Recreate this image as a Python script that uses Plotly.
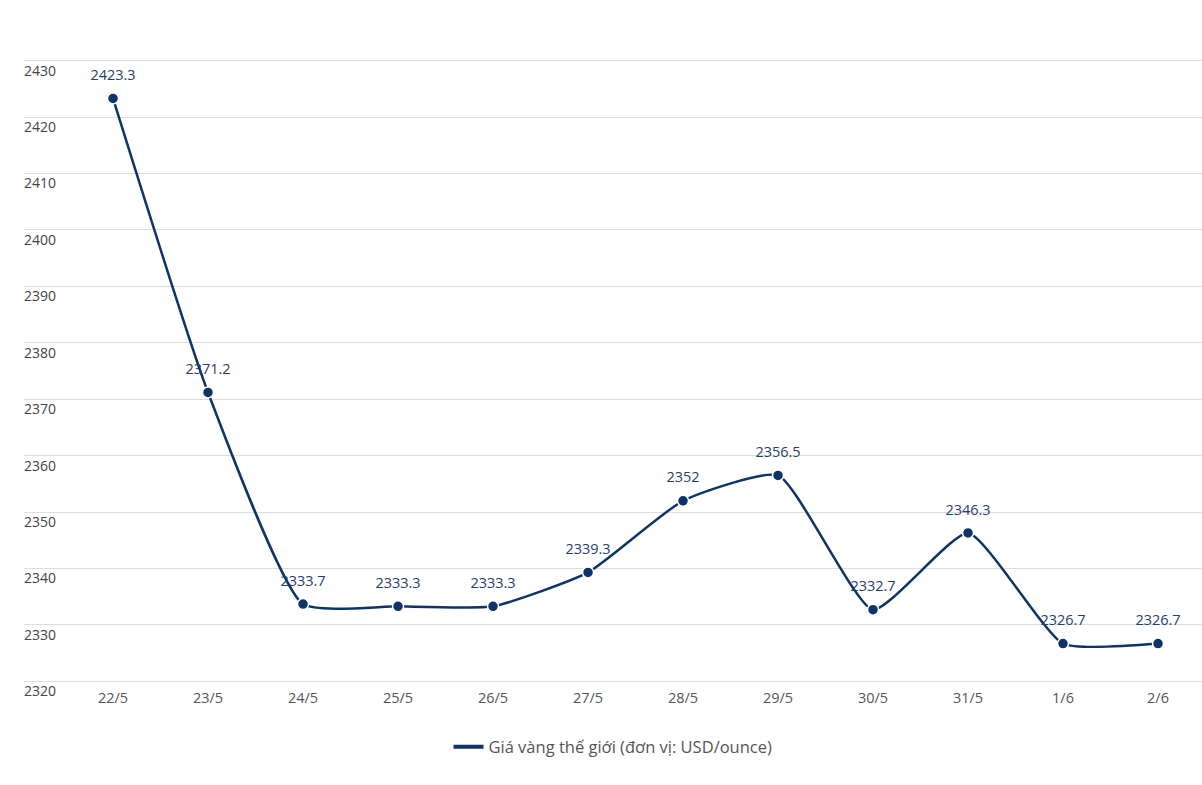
import plotly.graph_objects as go

dates = ["22/5", "23/5", "24/5", "25/5", "26/5", "27/5", "28/5", "29/5", "30/5", "31/5", "1/6", "2/6"]
prices = [2423.3, 2371.2, 2333.7, 2333.3, 2333.3, 2339.3, 2352, 2356.5, 2332.7, 2346.3, 2326.7, 2326.7]
y_ticks = [2320, 2330, 2340, 2350, 2360, 2370, 2380, 2390, 2400, 2410, 2420, 2430]
series_name = "Giá vàng thế giới (đơn vị: USD/ounce)"

line_color = "#0d3468"
font_family = "Open Sans, Lato, sans-serif"

fig = go.Figure()
fig.add_trace(go.Scatter(
    x=dates, y=prices, name=series_name, showlegend=False,
    mode="lines+markers",
    line=dict(color=line_color, width=2.5, shape="spline", smoothing=0.5),
    marker=dict(size=11, color=line_color, line=dict(color="white", width=1.5)),
    cliponaxis=False,
))
# value labels (transparent larger markers give the labels more lift)
fig.add_trace(go.Scatter(
    x=dates, y=prices, showlegend=False, hoverinfo="skip",
    mode="markers+text",
    marker=dict(size=22, color="rgba(0,0,0,0)"),
    text=[f"{v:g}" for v in prices],
    textposition="top center",
    textfont=dict(color="#1f3f6e", size=14.5, family=font_family),
    cliponaxis=False,
))
# legend-only entry drawn as a plain thick line
fig.add_trace(go.Scatter(
    x=[None], y=[None], name=series_name, mode="lines",
    line=dict(color=line_color, width=4),
))

fig.update_layout(
    width=1202, height=785,
    margin=dict(l=24, r=0, t=55, b=98, autoexpand=False),
    paper_bgcolor="white", plot_bgcolor="white",
    font=dict(family=font_family, color="#555"),
    showlegend=True,
    legend=dict(orientation="h", x=0.5, xanchor="center", y=-0.095, yanchor="middle",
                font=dict(size=16.5, color="#555", family=font_family)),
    xaxis=dict(type="category", range=[-0.937, 11.463], showgrid=False, zeroline=False,
               showline=False, ticks="", tickfont=dict(size=14.5, color="#555"),
               automargin=False, ticklabelstandoff=0),
    yaxis=dict(range=[2319, 2431], tickvals=y_ticks, showgrid=True, gridcolor="#dddddd",
               gridwidth=1, zeroline=False, showline=False, ticks="",
               ticklabelposition="inside", ticklabelshift=10, ticklabelstandoff=-3,
               ticklabeloverflow="allow",
               automargin=False,
               tickfont=dict(size=14, color="#444")),
)

fig.write_html("out.html", config={"displayModeBar": False},
               post_script="document.body.style.margin='0';document.body.style.padding='0';")
